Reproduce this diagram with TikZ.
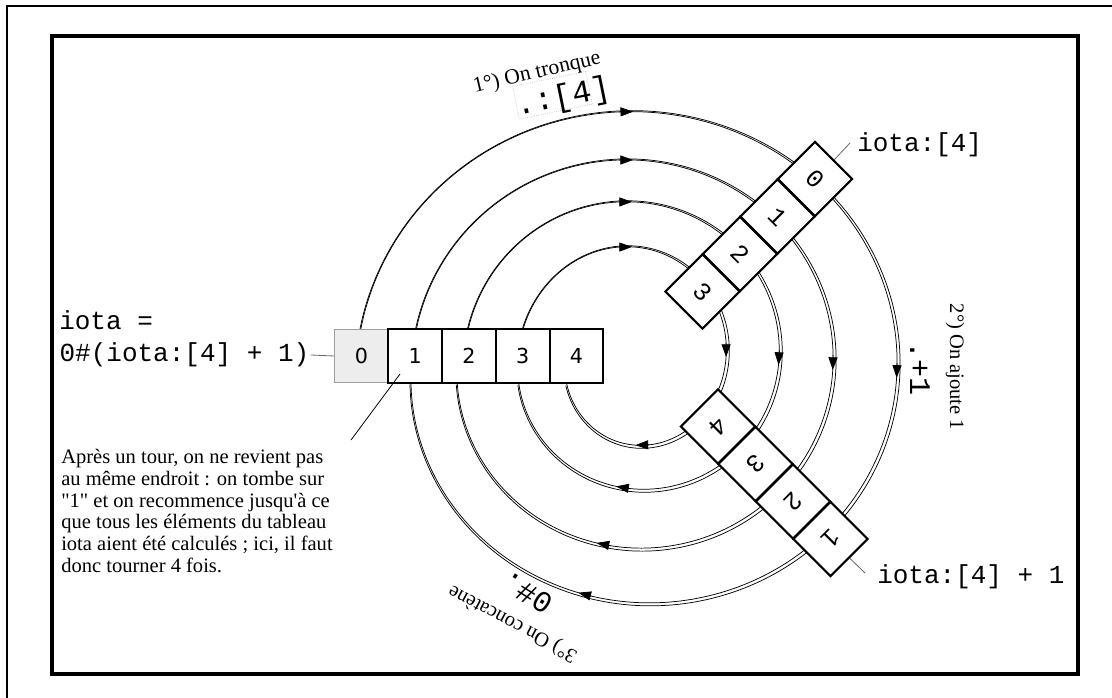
\documentclass[tikz,border=0pt]{standalone}
\usepackage{fontspec}
\setmainfont{Liberation Serif}
\newfontfamily\monofnt{Liberation Mono}
\newfontfamily\dejafnt{DejaVu Sans}
\usetikzlibrary{arrows.meta,calc}
% #1 cx, #2 cy, #3 a, #4 b, #5 k, #6 t start, #7 t end, #8 options
\newcommand\ringplot[8]{\draw[ringln,#8] plot[smooth,domain=#6:#7,samples=120] ({#1-(#3-#5*\x)*cos(\x)},{#2-(#4-#5*\x)*sin(\x)});}
\newcommand\ringdouble[7]{\ringplot{#1}{#2}{#3}{#4}{#5}{#6}{#7}{}%
  \ringplot{#1+1}{#2+1}{#3+2}{#4+2}{#5}{#6}{#7}{}}
% arrow on a ring: #1 cx, #2 cy, #3 a, #4 b, #5 k, #6 t tail, #7 t tip
\newcommand\ringarrow[7]{\draw[arrowhd] ({#1-(#3-#5*(#6))*cos(#6)},{#2-(#4-#5*(#6))*sin(#6)}) -- ({#1-(#3-#5*(#7))*cos(#7)},{#2-(#4-#5*(#7))*sin(#7)});}
\begin{document}
\begin{tikzpicture}[x=0.75pt,y=-0.75pt,
  ringln/.style={line width=0.55pt},
  arrowhd/.style={-{Triangle[length=9.5pt,width=6.8pt]},line width=0.55pt},
  rowbox/.style={draw,line width=1.6pt,fill=white,minimum size=40.3pt,inner sep=0pt,font=\dejafnt\fontsize{15.5}{18}\selectfont},
  rowboxz/.style={draw=gray!75,line width=0.7pt,fill=black!7,minimum size=40.3pt,inner sep=0pt,font=\dejafnt\fontsize{15.5}{18}\selectfont},
  diagbox/.style={draw,line width=1.6pt,fill=white,minimum size=39.4pt,inner sep=0pt,font=\monofnt\fontsize{19}{22}\selectfont},
  monolab/.style={inner sep=0pt,font=\monofnt\fontsize{19.5}{26}\selectfont},
  oplab/.style={inner sep=0pt,font=\monofnt\fontsize{22.5}{26}\selectfont},
  seriflab/.style={inner sep=0pt,font=\fontsize{15.4}{16.3}\selectfont},
  thinconn/.style={gray!80!black,line width=0.6pt}]
\useasboundingbox (0,0) rectangle (1112,698);
\fill[white] (0,0) rectangle (1112,698);
\draw[line width=0.8pt] (7,698) -- (7,6) -- (1112,6);
\draw[line width=3pt] (51.5,36) rectangle (1077.5,674);

% spiral rings (double hand-drawn look)
\ringdouble{640.25}{371}{284.25}{273}{0.153}{8.6}{356.8}
\ringdouble{633.75}{365.25}{221.75}{216.5}{0.125}{9.4}{353.9}
\ringdouble{635}{359}{171}{170.5}{0.15}{10}{347.9}
\ringdouble{633.8}{357.8}{115.8}{122.6}{0.131}{13.2}{340.4}

% arrowheads: top
\ringarrow{640.25}{371}{284.25}{273}{0.153}{85.5}{88.5}
\ringarrow{633.75}{365.25}{221.75}{216.5}{0.125}{86}{89.8}
\ringarrow{635}{359}{171}{170.5}{0.15}{84.2}{88.9}
\ringarrow{633.8}{357.8}{115.8}{122.6}{0.131}{81.8}{89}
% right
\ringarrow{640.25}{371}{284.25}{273}{0.153}{178.1}{181.6}
\ringarrow{633.75}{365.25}{221.75}{216.5}{0.125}{177}{181.4}
\ringarrow{635}{359}{171}{170.5}{0.15}{176.4}{182.4}
\ringarrow{633.8}{357.8}{115.8}{122.6}{0.131}{171.4}{179.5}
% bottom
\ringarrow{640.25}{371}{284.25}{273}{0.153}{281.7}{284.9}
\ringarrow{633.75}{365.25}{221.75}{216.5}{0.125}{277.1}{281.5}
\ringarrow{635}{359}{171}{170.5}{0.15}{272.2}{278.4}
\ringarrow{633.8}{357.8}{115.8}{122.6}{0.131}{258.8}{268.8}

% row of iota
\node[rowboxz] (r0) at (361.5,356) {0};
\node[rowbox] (r1) at (415.25,356) {1};
\node[rowbox] (r2) at (469,356) {2};
\node[rowbox] (r3) at (522.75,356) {3};
\node[rowbox] (r4) at (576.5,356) {4};

% iota:[4]
\node[diagbox,rotate=-45] (u0) at (815,179) {0};
\node[diagbox,rotate=-45] (u1) at (777.5,216.5) {1};
\node[diagbox,rotate=-45] (u2) at (740,254) {2};
\node[diagbox,rotate=-45] (u3) at (702.5,291.5) {3};

% iota:[4] + 1
\node[diagbox,rotate=-135] (w1) at (830.5,539) {1};
\node[diagbox,rotate=-135] (w2) at (793,501.5) {2};
\node[diagbox,rotate=-135] (w3) at (755.5,464) {3};
\node[diagbox,rotate=-135] (w4) at (718,426.5) {4};

% labels
\node[monolab,anchor=west] (iotaeq) at (59,320) {iota =};
\node[monolab,anchor=west,inner xsep=1pt] (iotadef) at (58,355) {0\#(iota:[4] + 1)};
\draw[thinconn] (iotadef.east) -- (r0.west);

\node[monolab,anchor=west] (lupper) at (857,145) {iota:[4]};
\coordinate (lupend) at (850,143);
\draw[thinconn] (u0.north) -- (lupend);

\node[monolab,anchor=west] (llower) at (877,577) {iota:[4] + 1};
\coordinate (llowend) at (865,573);
\draw[thinconn] (w1.north) -- (llowend);

\node[seriflab,anchor=north west,align=left] (para) at (61,449) {Après un tour, on ne revient pas\\au même endroit : on tombe sur\\\textquotedbl 1\textquotedbl{} et on recommence jusqu\textquotesingle à ce\\que tous les éléments du tableau\\iota aient été calculés ; ici, il faut\\donc tourner 4 fois.};
\coordinate (ptrin) at (400,374);
\coordinate (ptrout) at (351,440);
\draw[line width=0.6pt] (ptrin) -- (ptrout);

% step captions
\node[draw=gray!70,densely dotted,line width=0.4pt,minimum width=55.9pt,minimum height=25pt,rotate=11.6] (op1box) at (552.5,95.3) {};
\node[oplab,font=\monofnt\fontsize{24}{28}\selectfont,rotate=11.5] (op1) at (563,98) {.:[4]};
\node[seriflab,font=\fontsize{16.2}{17}\selectfont,rotate=13] (cap1) at (537,73) {1°) On tronque};

\node[oplab,rotate=-90] (op2) at (920,369) {.+1};
\node[seriflab,rotate=-90] (cap2) at (955,367) {2°) On ajoute 1};

\node[oplab,rotate=148] (op3) at (527,593) {0\#.};
\node[seriflab,rotate=152] (cap3) at (513,623) {3°) On concatène};
\end{tikzpicture}
\end{document}
